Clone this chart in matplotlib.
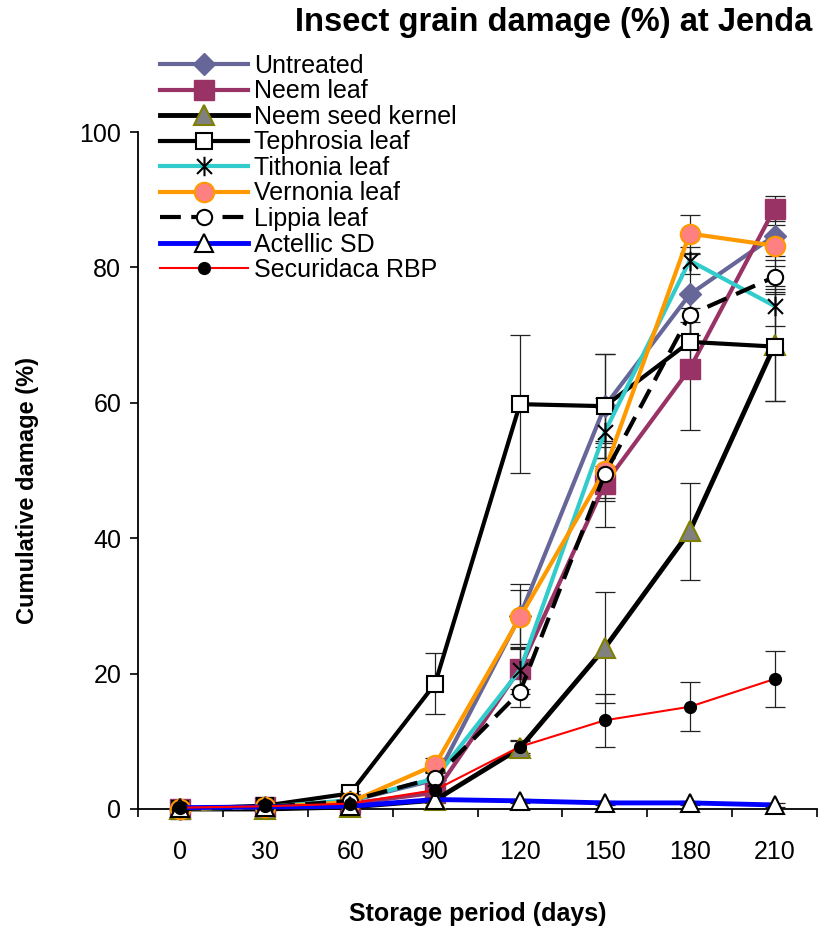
import matplotlib
matplotlib.use("Agg")
import matplotlib.pyplot as plt
import numpy as np
from matplotlib.path import Path

plt.rcParams['font.family'] = ['Liberation Sans', 'DejaVu Sans']

# storage period (days) and cumulative damage (%)
days = ["0", "30", "60", "90", "120", "150", "180", "210"]

untreated = [0.0, 0.3, 1.2, 4.3, 28.5, 59.5, 76.0, 84.7]
neem_leaf = [0.0, 0.3, 0.8, 2.4, 20.7, 48.0, 65.0, 88.7]
neem_seed = [0.0, 0.0, 0.3, 1.3, 9.0, 23.8, 41.0, 68.5]
tephrosia = [0.0, 0.5, 2.3, 18.5, 59.8, 59.5, 69.0, 68.3]
tithonia = [0.0, 0.3, 1.3, 4.5, 20.5, 55.7, 81.0, 74.3]
vernonia = [0.0, 0.3, 1.0, 6.5, 28.3, 50.0, 85.0, 83.2]
lippia = [0.0, 0.3, 1.2, 4.6, 17.3, 49.5, 73.0, 78.6]
actellic = [0.2, 0.3, 0.4, 1.4, 1.2, 0.9, 0.9, 0.6]
securidaca = [0.2, 0.4, 0.8, 2.8, 9.2, 13.1, 15.1, 19.2]

# error bar half-widths
err_untreated = [0, 0, 0.3, 1.0, 4.7, 7.7, 6.0, 3.0]
err_neem_leaf = [0, 0, 0.3, 0.8, 3.0, 6.3, 9.0, 1.8]
err_neem_seed = [0, 0, 0, 0.3, 1.0, 8.2, 7.2, 8.3]
err_tephrosia = [0, 0, 0.3, 4.5, 10.2, 7.7, 3.0, 8.0]
err_tithonia = [0, 0, 0.3, 1.0, 3.5, 5.0, 2.0, 3.0]
err_vernonia = [0, 0, 0.3, 1.0, 4.0, 4.0, 2.8, 3.0]
err_lippia = [0, 0, 0.3, 1.0, 2.2, 4.0, 3.0, 2.5]
err_actellic = [0, 0, 0, 0.3, 0.3, 0.3, 0.3, 0.3]
err_securidaca = [0, 0, 0.3, 0.5, 1.0, 3.9, 3.6, 4.2]

# Excel-like star marker: an x with a vertical bar
star = Path([(-1, -1), (1, 1), (-1, 1), (1, -1), (0, -1.3), (0, 1.3)],
            [Path.MOVETO, Path.LINETO, Path.MOVETO, Path.LINETO, Path.MOVETO, Path.LINETO])

series = [
    ("Untreated", untreated, err_untreated, dict(color="#666699", lw=3, marker="D", ms=11, mfc="#666699", mec="#666699")),
    ("Neem leaf", neem_leaf, err_neem_leaf, dict(color="#993366", lw=3, marker="s", ms=14, mfc="#993366", mec="#993366")),
    ("Neem seed kernel", neem_seed, err_neem_seed, dict(color="black", lw=3.5, marker="^", ms=15, mfc="#808080", mec="#808000", mew=1.5)),
    ("Tephrosia leaf", tephrosia, err_tephrosia, dict(color="black", lw=3, marker="s", ms=11, mfc="white", mec="black", mew=1.5)),
    ("Tithonia leaf", tithonia, err_tithonia, dict(color="#33CCCC", lw=3, marker=star, ms=14, mec="black", mew=1.5)),
    ("Vernonia leaf", vernonia, err_vernonia, dict(color="#FF9900", lw=3, marker="o", ms=14, mfc="#FF8080", mec="#FF9900", mew=1.5)),
    ("Lippia leaf", lippia, err_lippia, dict(color="black", lw=3, ls=(0, (5, 2.5)), marker="o", ms=11, mfc="white", mec="black", mew=1.5)),
    ("Actellic SD", actellic, err_actellic, dict(color="#0000FF", lw=3.5, marker="^", ms=13, mfc="white", mec="black", mew=1.5)),
    ("Securidaca RBP", securidaca, err_securidaca, dict(color="#FF0000", lw=1.5, marker="o", ms=8.5, mfc="black", mec="black")),
]

fig = plt.figure(figsize=(8.19, 9.35), dpi=100)
ax = fig.add_axes([138 / 819, 1 - 809 / 935, (817 - 138) / 819, (809 - 132) / 935])

x = np.arange(len(days))
for i, (name, vals, err, st) in enumerate(series):
    ax.errorbar(x, vals, yerr=err, fmt="none", ecolor="#222222", elinewidth=0.9,
                capsize=7, capthick=0.9, zorder=2 + i * 0.1, clip_on=False)
for i, (name, vals, err, st) in enumerate(series):
    ax.plot(x, vals, label=name, zorder=3 + i * 0.1, clip_on=False, **st)

ax.set_xlim(-0.5, len(days) - 0.5)
ax.set_ylim(0, 100)
ax.set_yticks([0, 20, 40, 60, 80, 100])
ax.set_xticks(np.arange(-0.5, len(days), 1.0))
ax.set_xticklabels([])
ax.set_xticks(x, minor=True)
ax.set_xticklabels(days, minor=True)
ax.tick_params(axis="x", which="major", direction="out", length=6, width=1.2)
ax.tick_params(axis="x", which="minor", length=0, pad=22, labelsize=18)
ax.tick_params(axis="y", direction="out", length=6, width=1.2, pad=6, labelsize=18)

for s in ["top", "right"]:
    ax.spines[s].set_visible(False)
for s in ["left", "bottom"]:
    ax.spines[s].set_linewidth(1.3)

ax.set_xlabel("Storage period (days)", fontsize=18, fontweight="bold")
ax.xaxis.set_label_coords(0.5, -0.138)
ax.set_ylabel("Cumulative damage (%)", fontsize=17, fontweight="bold")
ax.yaxis.set_label_coords(-0.146, 0.47)

fig.text(812 / 819, 1 - 22 / 935, "Insect grain damage (%) at Jenda",
         fontsize=23.5, fontweight="bold", ha="right", va="center")

ax.legend(loc="upper left", bbox_to_anchor=(160 / 819, 1 - 54 / 935),
          bbox_transform=fig.transFigure, frameon=False, fontsize=18,
          handlelength=3.5, handletextpad=0.25, labelspacing=0.06,
          borderpad=0, borderaxespad=0)

fig.savefig("out.png", dpi=100)
